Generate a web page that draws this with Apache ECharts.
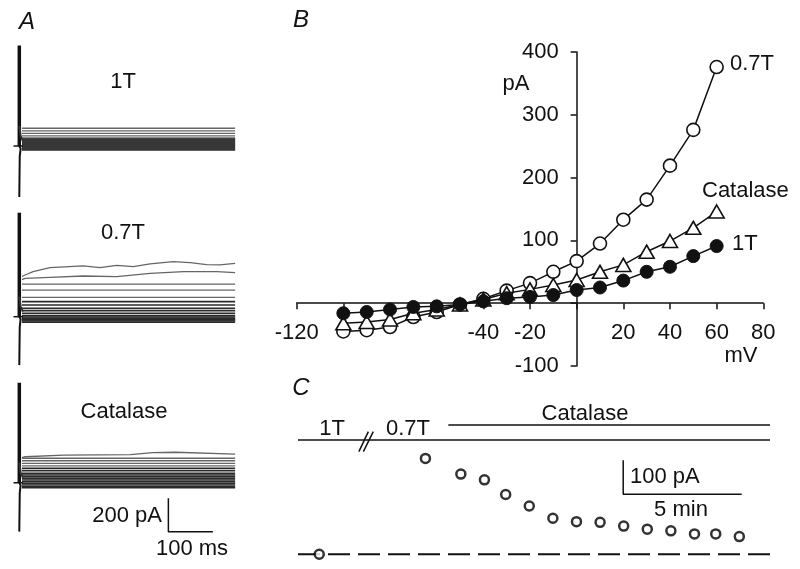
<!DOCTYPE html>
<html><head><meta charset="utf-8">
<script src="https://cdn.jsdelivr.net/npm/echarts@6/dist/echarts.min.js"></script>
<style>html,body{margin:0;padding:0;background:#fff}#c{width:800px;height:569px}</style>
</head><body><div id="c"></div>
<script>
// ---------- Panel B : I-V relation ----------
const voltages   = [-100,-90,-80,-70,-60,-50,-40,-30,-20,-10,0,10,20,30,40,50,60];
const iv07T      = [-45,-43,-38,-22,-14,-2,7,20,32,50,67,95,133,165,219,276,376];
const ivCatalase = [-32,-30,-26,-16,-10,-2,6,16,22,29,37,50,61,82,99,120,146];
const iv1T       = [-16,-14,-10,-6,-5,-2,3,8,10,13,21,25,36,50,58,75,91];
const xTickLabels = ['-120','-40','-20','20','40','60','80'];
const yTickLabels = ['400','300','200','100','-100'];

// ---------- Panel A : current traces (steady levels, pA) ----------
const traceLevels1T  = [106,90,76,60,48,42,36,30,24,18,12,6,0,-6,-12,-18,-24];
const traceLevels07T = [319,263,195,159,116,90,70,50,36,20,6,-2,-10,-16,-20,-26,-33];
const traceLevelsCat = [171,146,131,116,100,86,72,56,46,36,26,16,6,-4,-14,-24,-30];
// wavy top traces [ms, pA]
const wave07T_1 = [[6,240],[13,249],[31,269],[69,293],[144,303],[181,293],[219,307],[256,299],[294,315],[346,329],[384,323],[421,311],[451,309],[485,319]];
const wave07T_2 = [[6,222],[13,229],[69,235],[144,243],[219,239],[294,259],[369,269],[444,269],[485,263]];
const waveCat_1 = [[6,150],[13,155],[100,165],[250,168],[300,180],[350,182],[485,171]];
const traceStartMs = 6, traceEndMs = 485;
// capacitive transients [top pA, bottom pA]
const spike1T  = [600,-305];
const spike07T = [621,-289];
const spikeCat = [597,-292];

// ---------- Panel C : time course ----------
const timeMin   = [5.4,6.9,7.9,8.8,9.8,10.8,11.8,12.8,13.8,14.8,15.8,16.8,17.7,18.7];
const currentPA = [282,236,219,176,142,106,96,94,83,74,69,60,60,52];
const time1T = [0.9], current1T = [0];

// ---------- build ----------
const FONT = '"Liberation Sans", Arial, sans-serif';
const K = '#111';
const chart = echarts.init(document.getElementById('c'), null, {renderer:'canvas'});
const pairs = (xs, ys) => xs.map((x,i)=>[x, ys[i]]);

const aGrids = [
  {left:10.4, top:38.8, width:231.4, height:162.5},
  {left:10.4, top:209.5, width:231.4, height:162.5},
  {left:10.4, top:375.5, width:231.4, height:162.5}
];
const gB = {left:296.7, top:52, width:466.6, height:314};
const grids = aGrids.concat([
  gB,
  {left:298, top:401.3, width:472, height:163.2}   // C
]);
const xAxes = [], yAxes = [];
for (let i=0;i<3;i++){
  xAxes.push({gridIndex:i, type:'value', min:-20, max:500, show:false});
  yAxes.push({gridIndex:i, type:'value', min:-330, max:640, show:false});
}
const bxMin=-120, bxMax=80, byMin=-100, byMax=400;
const yAxisOffset = -gB.width*(0-bxMin)/(bxMax-bxMin);
const xAxisOffset = -gB.height*(0-byMin)/(byMax-byMin);
xAxes.push({gridIndex:3, type:'value', min:bxMin, max:bxMax, interval:20, position:'bottom', offset:xAxisOffset,
  axisLine:{onZero:false, lineStyle:{color:K, width:1.5}},
  axisTick:{show:true, length:6, lineStyle:{color:K, width:1.5}},
  splitLine:{show:false},
  axisLabel:{margin:19, fontSize:22, fontFamily:FONT, color:K,
    formatter:v=> xTickLabels.includes(String(v)) ? String(v) : ''}});
yAxes.push({gridIndex:3, type:'value', min:byMin, max:byMax, interval:100, position:'left', offset:yAxisOffset,
  axisLine:{onZero:false, lineStyle:{color:K, width:1.5}},
  axisTick:{show:true, length:6, lineStyle:{color:K, width:1.5}},
  splitLine:{show:false},
  axisLabel:{margin:18, fontSize:22, fontFamily:FONT, color:K,
    formatter:v=> yTickLabels.includes(String(v)) ? String(v) : ''}});
xAxes.push({gridIndex:4, type:'value', min:0, max:20, show:false});
yAxes.push({gridIndex:4, type:'value', min:-30, max:450, show:false});

const series = [];
function line(gi, data, color, width, extra){
  series.push(Object.assign({type:'line', xAxisIndex:gi, yAxisIndex:gi, data:data,
    showSymbol:false, symbol:'none', silent:true, animation:false, clip:false,
    lineStyle:{color:color, width:width}}, extra||{}));
}
const panelsA = [
  {levels:traceLevels1T, waves:[], spike:spike1T},
  {levels:traceLevels07T, waves:[wave07T_1, wave07T_2], spike:spike07T},
  {levels:traceLevelsCat, waves:[waveCat_1], spike:spikeCat}
];
panelsA.forEach((p, gi)=>{
  p.levels.forEach((lv, k)=>{
    const d = (k < p.waves.length) ? p.waves[k] : [[traceStartMs, lv],[traceEndMs, lv]];
    line(gi, d, k < 5 ? '#666' : '#2a2a2a', k < 5 ? 1.3 : 1.6);
  });
  // capacitive transient
  line(gi, [[0,p.spike[0]],[0,0]], K, 3.5);
  line(gi, [[0,120],[3,60],[8,30]], '#333', 2);
  line(gi, [[0,0],[3,-15],[1,-60],[0,p.spike[1]]], K, 2);
  // zero marker
  line(gi, [[-13,0],[8,0]], K, 1.5);
});
// A scale bar (200 pA, 100 ms)
line(2, [[335,-92.5],[335,-292.5],[435,-292.5]], K, 1.5);

// B series
series.push({type:'line', xAxisIndex:3, yAxisIndex:3, data:pairs(voltages, iv07T),
  symbol:'circle', symbolSize:13, animation:false, silent:true, z:3,
  lineStyle:{color:K, width:1.5}, itemStyle:{color:'#fff', borderColor:K, borderWidth:1.6}});
series.push({type:'line', xAxisIndex:3, yAxisIndex:3, data:pairs(voltages, ivCatalase),
  symbol:'triangle', symbolSize:[15,13], animation:false, silent:true, z:4,
  lineStyle:{color:K, width:1.5}, itemStyle:{color:'#fff', borderColor:K, borderWidth:1.6}});
series.push({type:'line', xAxisIndex:3, yAxisIndex:3, data:pairs(voltages, iv1T),
  symbol:'circle', symbolSize:13, animation:false, silent:true, z:5,
  lineStyle:{color:K, width:1.5}, itemStyle:{color:K, borderColor:K, borderWidth:1}});

// C annotations
line(4, [[0,0],[20,0]], K, 2, {lineStyle:{color:K, width:2, type:[22,8]}});
line(4, [[0,336],[20,336]], K, 1.5);
line(4, [[6.37,380],[20,380]], K, 1.5);
line(4, [[2.58,302],[2.98,361]], K, 1.5);
line(4, [[2.77,302],[3.19,361]], K, 1.5);
line(4, [[13.78,276.5],[13.78,176.5],[18.8,176.5]], K, 1.5);
series.push({type:'scatter', xAxisIndex:4, yAxisIndex:4, data:pairs(timeMin, currentPA),
  symbol:'circle', symbolSize:9, animation:false, silent:true, z:5,
  itemStyle:{color:'#fff', borderColor:'#000', borderWidth:2.5}});
series.push({type:'scatter', xAxisIndex:4, yAxisIndex:4, data:pairs(time1T, current1T),
  symbol:'circle', symbolSize:9, animation:false, silent:true, z:5,
  itemStyle:{color:'#fff', borderColor:'#000', borderWidth:2.5}});

function txt(t, x, y, opts){
  return Object.assign({type:'text', x:x, y:y, z:100, silent:true,
    style:Object.assign({text:t, fill:K, font:'22px '+FONT, align:'center', verticalAlign:'middle'}, opts||{})});
}
const ital = {font:'italic 24px '+FONT};
const graphic = [
  txt('A', 27, 22, ital), txt('B', 301, 20, ital), txt('C', 301, 388, ital),
  txt('1T', 123, 82), txt('0.7T', 123, 233), txt('Catalase', 124, 412),
  txt('200 pA', 162, 516, {align:'right'}), txt('100 ms', 192, 549),
  txt('pA', 516, 84), txt('mV', 741, 356),
  txt('0.7T', 730, 64, {align:'left'}), txt('Catalase', 702, 191, {align:'left'}), txt('1T', 732, 244, {align:'left'}),
  txt('1T', 332, 429), txt('0.7T', 408, 429), txt('Catalase', 585, 414),
  txt('100 pA', 630, 477, {align:'left'}), txt('5 min', 681, 510)
];

chart.setOption({animation:false, backgroundColor:'#fff', grid:grids, xAxis:xAxes, yAxis:yAxes, series:series, graphic:graphic});
</script></body></html>
